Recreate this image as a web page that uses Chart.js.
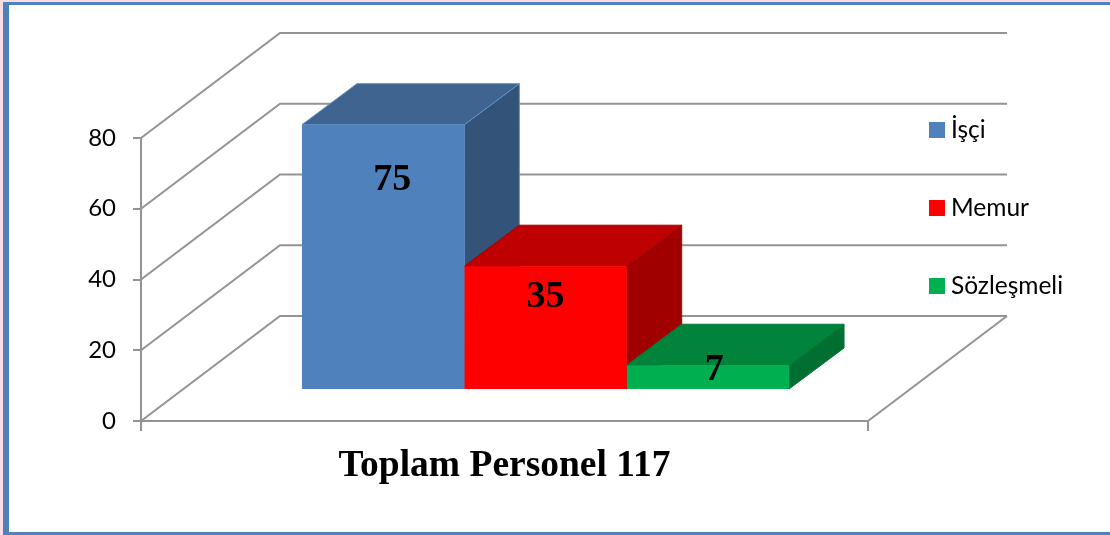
<!DOCTYPE html>
<html lang="tr">
<head>
<meta charset="utf-8">
<title>Toplam Personel</title>
<script src="https://cdn.jsdelivr.net/npm/chart.js@4"></script>
<style>
    html, body { margin: 0; padding: 0; width: 1110px; height: 535px; overflow: hidden; background: #fbdde3; }
    #frame { position: absolute; left: 3px; top: 2px; width: 1120px; height: 533px; box-sizing: border-box;
             background: #fff; border: 3px solid #4f81bd; border-left-width: 6px; }
    #chart { position: absolute; left: 0; top: 0; }
</style>
</head>
<body>
<div id="frame"></div>
<canvas id="chart" width="1110" height="535"></canvas>
<script>
const categories = ['Toplam Personel 117'];
const seriesNames = ['İşçi', 'Memur', 'Sözleşmeli'];
const seriesValues = [75, 35, 7];
const yTicks = [0, 20, 40, 60, 80];

const frontColors = ['#4f81bd', '#ff0000', '#00b050'];
const topColors = ['#3e648f', '#bf0000', '#00843c'];
const sideColors = ['#335378', '#a00000', '#006f31'];
const edgeColors = ['#5f8ec6', '#a80000', '#007a36'];

const gridColor = '#939393';
const wallDepth = { x: 139, y: -105 };  // fondo del grafico
const barShift = { x: 41, y: -31 };     // barre staccate dalla parete frontale
const barDepth = { x: 55, y: -41 };

function poly(ctx, pts, fill, edge) {
    ctx.beginPath();
    pts.forEach((p, i) => i ? ctx.lineTo(p[0], p[1]) : ctx.moveTo(p[0], p[1]));
    ctx.closePath();
    ctx.fillStyle = fill;
    ctx.fill();
    ctx.strokeStyle = edge;
    ctx.lineWidth = 1;
    ctx.stroke();
}

// pareti, griglia e facce laterali delle barre
const box3d = {
    id: 'box3d',
    beforeDatasetsDraw(chart) {
        const { ctx, chartArea: area, scales: { y: yScale } } = chart;
        const dx = wallDepth.x, dy = wallDepth.y;

        ctx.save();
        ctx.strokeStyle = gridColor;
        ctx.lineWidth = 2;
        yTicks.forEach(v => {
            const py = yScale.getPixelForValue(v);
            ctx.beginPath();
            ctx.moveTo(area.left, py);
            ctx.lineTo(area.left + dx, py + dy);
            ctx.lineTo(area.right + dx, py + dy);
            ctx.stroke();
        });
        const floor = yScale.getPixelForValue(0);
        ctx.beginPath();
        ctx.moveTo(area.right, floor);
        ctx.lineTo(area.right + dx, floor + dy);
        ctx.stroke();

        ctx.translate(barShift.x, barShift.y);
        seriesValues.forEach((_, i) => {
            const bar = chart.getDatasetMeta(i).data[0].getProps(['x', 'y', 'base', 'width'], true);
            const l = bar.x - bar.width / 2, r = bar.x + bar.width / 2;
            const ox = barDepth.x, oy = barDepth.y;
            poly(ctx, [[r, bar.y], [r + ox, bar.y + oy], [r + ox, bar.base + oy], [r, bar.base]], sideColors[i], edgeColors[i]);
            poly(ctx, [[l, bar.y], [l + ox, bar.y + oy], [r + ox, bar.y + oy], [r, bar.y]], topColors[i], edgeColors[i]);
        });
        // le facce frontali le disegna Chart.js, spostate come le laterali
    },
    afterDatasetsDraw(chart) {
        chart.ctx.restore();
    }
};

// etichette dei valori, messe a mano come nell'originale
const labelOffsets = [[9, 55], [0, 31], [6.5, 5]];
const valueLabels = {
    id: 'valueLabels',
    afterDraw(chart) {
        const { ctx } = chart;
        ctx.save();
        ctx.fillStyle = '#000';
        ctx.font = 'bold 38px "Liberation Serif"';
        ctx.textAlign = 'center';
        ctx.textBaseline = 'middle';
        seriesValues.forEach((v, i) => {
            const bar = chart.getDatasetMeta(i).data[0];
            ctx.fillText(String(v), bar.x + barShift.x + labelOffsets[i][0], bar.y + barShift.y + labelOffsets[i][1]);
        });
        ctx.restore();
    }
};

// legenda a destra, con passo fisso
const sideLegend = {
    id: 'sideLegend',
    afterDraw(chart) {
        const { ctx } = chart;
        ctx.save();
        ctx.font = '24.5px Lato';
        ctx.textBaseline = 'middle';
        chart.data.datasets.forEach((ds, i) => {
            const cy = 130 + i * 78;
            ctx.fillStyle = ds.backgroundColor;
            ctx.fillRect(929, cy - 8, 16, 16);
            ctx.fillStyle = '#000';
            ctx.fillText(ds.label, 951, cy);
        });
        ctx.restore();
    }
};

new Chart(document.getElementById('chart').getContext('2d'), {
    type: 'bar',
    data: {
        labels: categories,
        datasets: seriesNames.map((name, i) => ({
            label: name,
            data: [seriesValues[i]],
            backgroundColor: frontColors[i],
            borderWidth: 0
        }))
    },
    options: {
        responsive: false,
        animation: false,
        categoryPercentage: 0.67,
        barPercentage: 1,
        layout: { autoPadding: false, padding: { left: 0, right: 242, top: 138, bottom: 0 } },
        plugins: { legend: { display: false }, tooltip: { enabled: false } },
        scales: {
            x: {
                afterFit(scale) { scale.height = 114; },
                grid: { drawOnChartArea: false, color: gridColor, lineWidth: 2, tickLength: 10 },
                border: { color: gridColor, width: 2 },
                ticks: {
                    color: '#000',
                    padding: 13,
                    maxRotation: 0,
                    font: { family: '"Liberation Serif"', size: 37.5, weight: 'bold' }
                }
            },
            y: {
                min: 0,
                max: 80,
                afterFit(scale) { scale.width = 141; },
                afterBuildTicks(scale) { scale.ticks = yTicks.map(value => ({ value })); },
                grid: { drawOnChartArea: false, color: gridColor, lineWidth: 2, tickLength: 8 },
                border: { color: gridColor, width: 2 },
                ticks: {
                    color: '#000',
                    padding: 17,
                    font: { family: 'Lato', size: 24 }
                }
            }
        }
    },
    plugins: [box3d, valueLabels, sideLegend]
});
</script>
</body>
</html>
